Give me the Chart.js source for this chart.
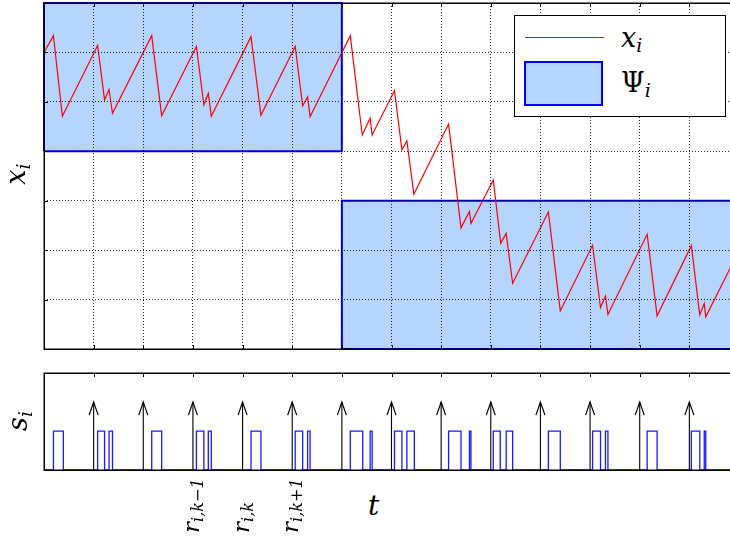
<!DOCTYPE html>
<html><head><meta charset="utf-8">
<script src="https://cdn.jsdelivr.net/npm/chart.js@4.4.0/dist/chart.umd.min.js"></script>
<style>
html,body{margin:0;padding:0;width:730px;height:536px;overflow:hidden;background:#fff;}
#wrap{position:relative;width:730px;height:536px;overflow:hidden;}
canvas{position:absolute;left:0;}
.m{position:absolute;font-family:"DejaVu Serif","Liberation Serif",serif;color:#000;white-space:nowrap;line-height:1;}
.m i{font-style:italic;}
.sub{font-size:0.7em;position:relative;top:0.25em;font-style:italic;}
</style></head>
<body><div id="wrap">
<canvas id="topc" width="739" height="352" style="top:0px;width:739px;height:352px"></canvas>
<canvas id="botc" width="739" height="120" style="top:360px;width:739px;height:120px"></canvas>
<div id="legbox" style="position:absolute;left:514px;top:15px;width:210px;height:100px;border:1.5px solid #000;background:#fff;"></div>
<div style="position:absolute;left:525px;top:37px;width:79px;height:1px;background:#ff0000;"></div>
<div style="position:absolute;left:524px;top:61px;width:75px;height:41px;border:2px solid #0000ff;background:#b5d5ff;"></div>
<div class="m" style="left:621px;top:24px;font-size:27px;"><i>x</i><span class="sub">i</span></div>
<div class="m" style="left:621px;top:69px;font-size:27px;">Ψ<span class="sub">i</span></div>
<div class="m" style="left:368px;top:492px;font-size:28px;"><i>t</i></div>
<div class="m" style="left:15px;top:174px;font-size:27px;transform:translate(-50%,-50%) rotate(-90deg);"><i>x</i><span class="sub">i</span></div>
<div class="m" style="left:17px;top:421px;font-size:27px;transform:translate(-50%,-50%) rotate(-90deg);"><i>s</i><span class="sub">i</span></div>
</div>
<script>
// ---- data ----
const xiT = [0, 0.19, 0.37, 1.08, 1.22, 1.31, 1.38, 2.17, 2.37, 3.07, 3.22, 3.31, 3.37, 4.17, 4.37, 5.06, 5.21, 5.31, 5.36, 6.17, 6.41, 6.57, 6.61, 7.06, 7.21, 7.31, 7.45, 8.15, 8.40, 8.57, 8.60, 9.05, 9.20, 9.31, 9.44, 10.16, 10.40, 11.05, 11.21, 11.31, 11.36, 12.15, 12.35, 13.04, 13.21, 13.30, 13.33, 13.85];
const xiV = [6.0, 6.34, 4.71, 6.14, 5.04, 5.25, 4.77, 6.34, 4.72, 6.12, 4.94, 5.17, 4.71, 6.32, 4.73, 6.12, 4.92, 5.10, 4.70, 6.34, 4.33, 4.67, 4.33, 5.23, 4.03, 4.21, 3.13, 4.55, 2.45, 2.78, 2.54, 3.42, 2.14, 2.34, 1.33, 2.77, 0.77, 2.10, 0.84, 1.07, 0.70, 2.32, 0.67, 2.09, 0.69, 0.92, 0.65, 1.69];
const psiStart = [0, 6];
const psiEnd = [6, 14];
const psiLow = [4, 0];
const psiHigh = [7, 3];
const pulseStart = [0.19, 1.08, 1.31, 2.17, 3.07, 3.31, 4.17, 5.06, 5.31, 6.17, 6.57, 7.06, 7.31, 8.15, 8.57, 9.05, 9.31, 10.16, 11.05, 11.31, 12.15, 13.04, 13.30];
const pulseEnd   = [0.39, 1.22, 1.38, 2.37, 3.22, 3.37, 4.37, 5.21, 5.36, 6.42, 6.61, 7.21, 7.46, 8.40, 8.60, 9.19, 9.44, 10.40, 11.21, 11.36, 12.35, 13.21, 13.33];
const pulseLevel = 0.4;
const arrowTimes = [1, 2, 3, 4, 5, 6, 7, 8, 9, 10, 11, 12, 13];
const arrowLevel = 0.7;
const tMin = 0, tMax = 14;
const xiMin = 0, xiMax = 7;
const sMin = 0, sMax = 1;
const rTickPos = [3, 4, 5];
const rTickSub = ['i,k−1', 'i,k', 'i,k+1'];

// ---- build library data ----
const xiData = xiT.map((t, i) => ({x: t, y: xiV[i]}));
const psiData = psiStart.map((s, i) => [
  {x: s, y: psiLow[i]}, {x: s, y: psiHigh[i]}, {x: psiEnd[i], y: psiHigh[i]},
  {x: psiEnd[i], y: psiLow[i]}, {x: s, y: psiLow[i]}
]);
const pulseData = [{x: tMin, y: 0}];
pulseStart.forEach((s, i) => {
  pulseData.push({x: s, y: 0}, {x: s, y: pulseLevel}, {x: pulseEnd[i], y: pulseLevel}, {x: pulseEnd[i], y: 0});
});
pulseData.push({x: tMax, y: 0});
const arrowData = [];
arrowTimes.forEach(t => { arrowData.push({x: t, y: 0}, {x: t, y: arrowLevel}, {x: t, y: null}); });

const zeroFit = s => { if (s.isHorizontal()) s.height = 0; else s.width = 0; };

function framePlugin(sides) {
  return {
    id: 'frame',
    afterDraw(chart) {
      const {ctx, chartArea: a, scales} = chart;
      ctx.save();
      ctx.strokeStyle = '#000';
      ctx.lineWidth = 1;
      ctx.beginPath();
      const xs = scales.x, ys = scales.y;
      xs.ticks.forEach(tk => {
        if (tk.value <= xs.min || tk.value >= xs.max) return;
        const px = Math.round(xs.getPixelForValue(tk.value)) + 0.5;
        if (sides.top) { ctx.moveTo(px, a.top); ctx.lineTo(px, a.top + 4); }
        if (sides.bottom) { ctx.moveTo(px, a.bottom); ctx.lineTo(px, a.bottom - 4); }
      });
      if (sides.left) {
        ys.ticks.forEach(tk => {
          if (tk.value <= ys.min || tk.value >= ys.max) return;
          const py = Math.round(ys.getPixelForValue(tk.value)) + 0.5;
          ctx.moveTo(a.left, py); ctx.lineTo(a.left + 4, py);
        });
      }
      ctx.stroke();
      ctx.lineWidth = 1.5;
      ctx.strokeRect(a.left + 0.25, a.top + 0.25, a.right - a.left + 2, a.bottom - a.top);
      ctx.restore();
    }
  };
}

const arrowHeadPlugin = {
  id: 'arrowheads',
  afterDatasetsDraw(chart) {
    const {ctx, scales} = chart;
    ctx.save();
    ctx.strokeStyle = '#000';
    ctx.lineWidth = 1.2;
    ctx.beginPath();
    arrowTimes.forEach(t => {
      const x = scales.x.getPixelForValue(t);
      const y = scales.y.getPixelForValue(arrowLevel);
      ctx.moveTo(x - 4.5, y + 13); ctx.lineTo(x, y); ctx.lineTo(x + 4.5, y + 13);
    });
    ctx.stroke();
    ctx.restore();
  }
};

const gridOpts = {color: 'rgba(0,0,0,0.85)', lineWidth: 1, drawTicks: false, z: 1};

const topChart = new Chart(document.getElementById('topc'), {
  type: 'line',
  data: {
    datasets: [
      {data: xiData, borderColor: '#ff0000', borderWidth: 1.2, pointRadius: 0, fill: false, tension: 0},
      {data: psiData[0], borderColor: '#0000ff', borderWidth: 2, backgroundColor: '#b5d5ff', pointRadius: 0, fill: 'shape', tension: 0, clip: false},
      {data: psiData[1], borderColor: '#0000ff', borderWidth: 2, backgroundColor: '#b5d5ff', pointRadius: 0, fill: 'shape', tension: 0, clip: false}
    ]
  },
  options: {
    responsive: false, animation: false, devicePixelRatio: 1,
    layout: {padding: {left: 44, top: 3, right: 0, bottom: 3}},
    plugins: {legend: {display: false}, tooltip: {enabled: false}},
    scales: {
      x: {type: 'linear', min: tMin, max: tMax, ticks: {display: false, stepSize: 1}, grid: gridOpts, border: {display: false, dash: [1, 2]}, afterFit: zeroFit},
      y: {type: 'linear', min: xiMin, max: xiMax, ticks: {display: false, stepSize: 1}, grid: gridOpts, border: {display: false, dash: [1, 2]}, afterFit: zeroFit}
    }
  },
  plugins: [framePlugin({top: true, bottom: true, left: true})]
});

const botChart = new Chart(document.getElementById('botc'), {
  type: 'line',
  data: {
    datasets: [
      {data: arrowData, borderColor: '#000', borderWidth: 1.1, pointRadius: 0, fill: false, spanGaps: false, tension: 0, clip: false},
      {data: pulseData, borderColor: '#1a1aff', borderWidth: 1.3, pointRadius: 0, fill: false, tension: 0, clip: false}
    ]
  },
  options: {
    responsive: false, animation: false, devicePixelRatio: 1,
    layout: {padding: {left: 44, top: 13, right: 0, bottom: 10}},
    plugins: {legend: {display: false}, tooltip: {enabled: false}},
    scales: {
      x: {type: 'linear', min: tMin, max: tMax, ticks: {display: false, stepSize: 1}, grid: {display: false}, border: {display: false}, afterFit: zeroFit},
      y: {type: 'linear', min: sMin, max: sMax, ticks: {display: false}, grid: {display: false}, border: {display: false}, afterFit: zeroFit}
    }
  },
  plugins: [framePlugin({top: true, bottom: false, left: false}), arrowHeadPlugin]
});

// rotated tick labels r_{i,k...} under the lower axis, placed through the scale
const wrap = document.getElementById('wrap');
rTickPos.forEach((v, i) => {
  const px = botChart.scales.x.getPixelForValue(v);
  const d = document.createElement('div');
  d.className = 'm';
  d.style.fontSize = '23px';
  d.style.left = (px - 13) + 'px';
  d.style.top = '533px';
  d.style.transformOrigin = '0 0';
  d.style.transform = 'rotate(-90deg)';
  d.innerHTML = '<i>r</i><span class="sub">' + rTickSub[i] + '</span>';
  wrap.appendChild(d);
});
</script>
</body></html>
